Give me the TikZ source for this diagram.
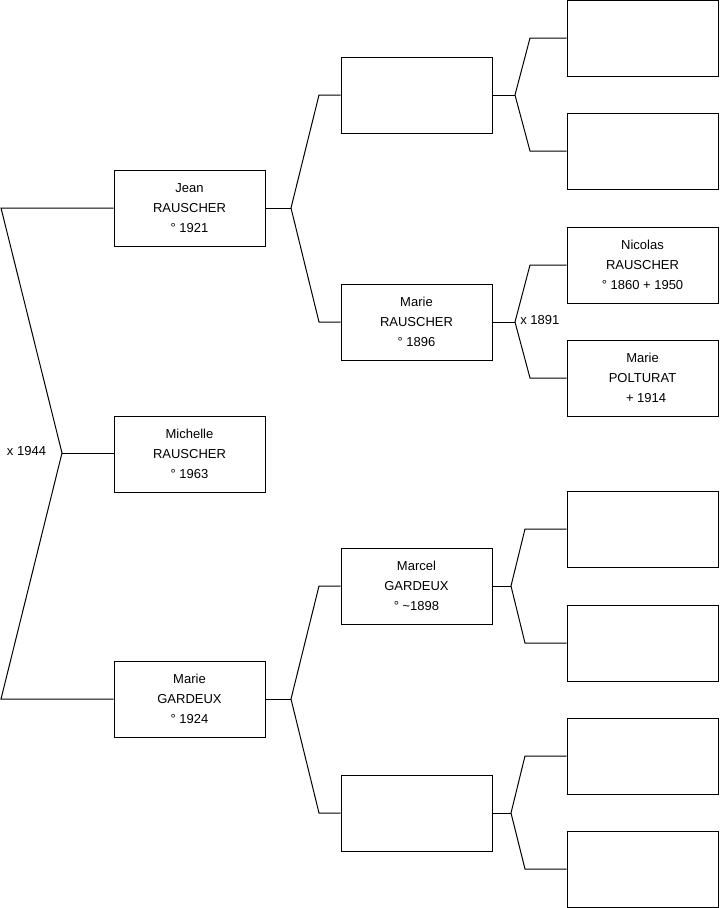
\documentclass[tikz,border=0pt]{standalone}
\usepackage{fontspec}
\setmainfont{Liberation Sans}
\begin{document}
\begin{tikzpicture}[x=0.75pt,y=-0.75pt,
  person/.style={draw=black,line width=0.75pt,minimum width=113.25pt,minimum height=57pt,inner sep=0pt,align=center,font=\fontsize{9.75}{15}\selectfont},
  link/.style={draw=black,line width=0.75pt,line join=miter},
  marr/.style={font=\fontsize{9.75}{12}\selectfont,inner sep=0pt}]
\useasboundingbox (0,0) rectangle (719,908);
% generation 1
\node[person] (jean) at (189.5,208) {Jean\\RAUSCHER\\° 1921};
\node[person] (michelle) at (189.5,454) {Michelle\\RAUSCHER\\° 1963};
\node[person] (marieg) at (189.5,699) {Marie\\GARDEUX\\° 1924};
% generation 2
\node[person] (f1) at (416.5,95) {};
\node[person] (marier) at (416.5,322) {Marie\\RAUSCHER\\° 1896};
\node[person] (marcel) at (416.5,586) {Marcel\\GARDEUX\\° \textasciitilde1898};
\node[person] (f4) at (416.5,813) {};
% generation 3
\node[person] (g1) at (642.5,38) {};
\node[person] (g2) at (642.5,151) {};
\node[person] (nicolas) at (642.5,265) {Nicolas\\RAUSCHER\\° 1860 + 1950};
\node[person] (polturat) at (642.5,378) {Marie\\POLTURAT\\\ \ + 1914};
\node[person] (g5) at (642.5,529) {};
\node[person] (g6) at (642.5,643) {};
\node[person] (g7) at (642.5,756) {};
\node[person] (g8) at (642.5,869) {};
% bracket michelle
\coordinate (a1) at (1,208);
\coordinate (a2) at (62,453);
\coordinate (a3) at (1,699);
\draw[link] (jean.west) -- (a1) -- (a2) -- (a3) -- (marieg.west);
\draw[link] (a2) -- (michelle.west |- a2);
\node[marr] (m1944) at (26.5,451) {x 1944};
% bracket jean
\coordinate (b0) at (291,208);
\coordinate (b1) at (319,95);
\coordinate (b2) at (319,322);
\draw[link] (jean.east) -- (b0);
\draw[link] (f1.west) -- (b1) -- (b0) -- (b2) -- (marier.west);
% bracket marie gardeux
\coordinate (c0) at (291,699);
\coordinate (c1) at (319,586);
\coordinate (c2) at (319,813);
\draw[link] (marieg.east) -- (c0);
\draw[link] (marcel.west) -- (c1) -- (c0) -- (c2) -- (f4.west);
% bracket f1
\coordinate (d0) at (515,95);
\coordinate (d1) at (530,38);
\coordinate (d2) at (530,151);
\draw[link] (f1.east) -- (d0);
\draw[link] (g1.west) -- (d1) -- (d0) -- (d2) -- (g2.west);
% bracket marie rauscher
\coordinate (e0) at (515,322);
\coordinate (e1) at (530,265);
\coordinate (e2) at (530,378);
\draw[link] (marier.east) -- (e0);
\draw[link] (nicolas.west) -- (e1) -- (e0) -- (e2) -- (polturat.west);
\node[marr,anchor=west] (m1891) at (520,320) {x 1891};
% bracket marcel
\coordinate (h0) at (511,586);
\coordinate (h1) at (525,529);
\coordinate (h2) at (525,643);
\draw[link] (marcel.east) -- (h0);
\draw[link] (g5.west) -- (h1) -- (h0) -- (h2) -- (g6.west);
% bracket f4
\coordinate (k0) at (511,813);
\coordinate (k1) at (525,756);
\coordinate (k2) at (525,869);
\draw[link] (f4.east) -- (k0);
\draw[link] (g7.west) -- (k1) -- (k0) -- (k2) -- (g8.west);
\end{tikzpicture}
\end{document}
